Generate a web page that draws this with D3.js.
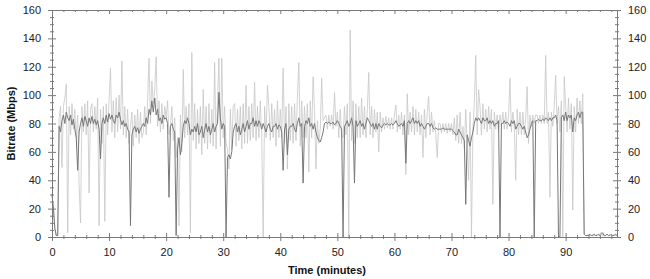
<!DOCTYPE html>
<html>
<head>
<meta charset="utf-8">
<script src="https://cdn.jsdelivr.net/npm/d3@7"></script>
<style>
  body { margin: 0; background: #fff; }
  svg text { font-family: "Liberation Sans", Arial, sans-serif; }
</style>
</head>
<body>
<div id="chart"></div>
<script>
// sampling grid: 4 samples per minute for both traces
const step = 0.25;
// light trace: per-sample bitrate (Mbps)
const rawRate = [
  30,20,6,1, 1,84,92,49, 92,98,108,3, 92,72,94,76, 90,70,86,37,
  10,92,74,94, 72,96,31,90, 94,74,92,76, 98,8,90,66, 92,11,94,72,
  96,119,74,96, 70,98,74,100, 76,124,72,92, 70,90,66,78, 88,64,86,70,
  90,66,88,70, 74,92,72,96, 126,80,110,94, 104,127,78,96, 74,94,76,92,
  84,96,72,78, 92,68,84,56, 70,8,86,60, 118,70,92,72, 94,3,130,68,
  94,62,90,66, 92,58,104,66, 92,62,94,66, 90,64,123,62, 96,126,64,126,
  70,92,66,62, 48,90,62,92, 94,64,90,68, 92,62,94,66, 107,66,92,68,
  94,70,109,68, 92,70,96,70, 0,92,70,107, 92,68,94,70, 90,64,96,70,
  90,70,119,66, 92,48,94,68, 92,66,94,68, 98,123,64,96, 70,92,70,94,
  46,96,70,113, 90,48,82,66, 76,112,82,84, 86,76,86,78, 86,76,102,78,
  88,70,90,72, 70,92,72,94, 0,146,68,96, 66,94,70,92, 70,98,72,92,
  70,90,116,72, 92,70,90,74, 88,60,88,74, 84,76,85,77, 84,76,84,76,
  86,93,74,86, 76,88,72,86, 44,101,72,88, 74,92,72,90, 74,88,72,86,
  56,90,70,88, 99,72,88,74, 82,72,56,80, 80,73,80,74, 80,73,80,74,
  80,72,84,68, 86,66,88,66, 78,62,90,64, 40,88,0,76, 94,128,72,104,
  92,72,94,76, 90,74,92,76, 90,23,88,76, 86,74,86,78, 88,76,88,76,
  86,112,74,88, 78,40,90,72, 88,72,88,72, 84,106,66,86, 78,86,80,86,
  86,80,86,80, 86,80,128,80, 88,28,88,78, 92,114,80,92, 74,96,0,113,
  92,74,98,76, 94,19,92,74, 98,80,96,80, 101,2,1,1, 2,1,1,2,
  1,1,2,1, 2,3.5,1,1, 1,2,1,2, 1,1,2,1, 1
];
// dark trace: smoothed bitrate (Mbps)
const avgRate = [
  30,20,6,1, 1,78,74,82, 86,80,88,84, 82,86,79,83, 76,70,47,74,
  80,84,78,85, 82,78,84,80, 85,80,83,79, 82,76,55,80, 84,80,86,81,
  87,83,86,82, 80,86,84,88, 83,79,82,78, 80,76,74,8, 72,76,78,74,
  77,73,76,78, 80,78,84,80, 90,86,96,88, 98,86,90,82, 84,80,86,83,
  84,80,28,78, 80,76,74,1, 62,70,58,66, 78,82,80,84, 80,72,76,74,
  78,74,80,72, 74,78,70,76, 80,74,78,72, 76,80,74,78, 80,102,84,76,
  80,78,0,56, 58,55,60,74, 78,80,74,78, 72,76,80,74, 78,82,76,80,
  80,84,78,82, 78,82,80,76, 80,77,74,78, 80,76,74,78, 78,80,76,79,
  78,74,47,76, 80,58,76,78, 78,80,76,74, 80,84,78,80, 38,78,82,80,
  84,78,80,76, 80,74,70,68, 67,70,74,80, 81,80,81,80, 80,81,79,80,
  82,80,78,76, 0,78,80,82, 78,80,84,78, 38,82,78,80, 82,78,80,76,
  80,84,82,80, 78,80,76,80, 76,80,78,77, 79,80,79,80, 79,79,80,79,
  80,82,80,78, 79,80,78,82, 52,80,82,80, 82,84,80,82, 80,82,78,80,
  78,76,78,80, 80,78,80,77, 76,77,76,76, 76,76,77,76, 76,76,76,76,
  76,75,74,72, 72,76,74,72, 70,68,23,72, 68,64,70,74, 80,84,82,84,
  82,80,84,82, 82,84,80,82, 80,82,78,80, 80,82,0,80, 80,82,80,81,
  80,78,82,80, 82,76,78,80, 80,78,76,78, 74,70,72,76, 80,82,0,82,
  82,83,82,82, 83,82,84,83, 82,84,82,84, 84,86,82,0, 0,84,86,82,
  88,82,86,84, 86,74,84,82, 86,88,84,88, 88,2,1,1, 1,2,1,1,
  2,1,1,2, 1,2,3,1, 1,2,1,1, 2,1,1,2, 1
];
const xTicks = [0, 10, 20, 30, 40, 50, 60, 70, 80, 90];
const yTicks = [0, 20, 40, 60, 80, 100, 120, 140, 160];

const width = 650, height = 279;
const margin = {top: 10, right: 33, bottom: 42, left: 52};

const svg = d3.select('#chart').append('svg')
  .attr('width', width).attr('height', height);

const x = d3.scaleLinear().domain([0, 99]).range([margin.left, width - margin.right]);
const y = d3.scaleLinear().domain([0, 160]).range([height - margin.bottom, margin.top]);

const xMinor = d3.range(0, 99.1, 2).filter(d => d % 10 !== 0);
const yMinor = d3.range(0, 161, 5).filter(d => d % 20 !== 0);

const line = d3.line().x(d => x(d[0])).y(d => y(d[1]));
const rawPts = rawRate.map((v, i) => [i * step, v]);
const avgPts = avgRate.map((v, i) => [i * step, v]);

svg.append('path').datum(rawPts)
  .attr('d', line).attr('fill', 'none')
  .attr('stroke', '#c6c6c6').attr('stroke-width', 0.8);
svg.append('path').datum(avgPts)
  .attr('d', line).attr('fill', 'none')
  .attr('stroke', '#777').attr('stroke-width', 1);

const axisColor = '#7a7a7a';
function styleAxis(g) {
  g.select('.domain').attr('stroke', axisColor);
  g.selectAll('.tick line').attr('stroke', axisColor);
  g.selectAll('.tick text').attr('fill', '#222').style('font-size', '11px');
}

// bottom
const gB = svg.append('g').attr('transform', `translate(0,${y(0)})`)
  .call(d3.axisBottom(x).tickValues(xTicks).tickSize(4).tickSizeOuter(0).tickPadding(7));
gB.selectAll('.tick line').attr('y1', -4);
svg.append('g').attr('transform', `translate(0,${y(0)})`)
  .call(d3.axisBottom(x).tickValues(xMinor).tickSize(2).tickFormat(''))
  .call(g => g.select('.domain').remove())
  .selectAll('.tick line').attr('y1', -2).attr('stroke', axisColor);
styleAxis(gB);

// top
const gT = svg.append('g').attr('transform', `translate(0,${y(160)})`)
  .call(d3.axisBottom(x).tickValues(xTicks).tickSize(4).tickSizeOuter(0).tickFormat(''));
svg.append('g').attr('transform', `translate(0,${y(160)})`)
  .call(d3.axisBottom(x).tickValues(xMinor).tickSize(2).tickFormat(''))
  .call(g => g.select('.domain').remove())
  .selectAll('.tick line').attr('stroke', axisColor);
styleAxis(gT);

// left
const gL = svg.append('g').attr('transform', `translate(${x(0)},0)`)
  .call(d3.axisLeft(y).tickValues(yTicks).tickSize(4).tickSizeOuter(0).tickPadding(7));
gL.selectAll('.tick line').attr('x1', 4);
svg.append('g').attr('transform', `translate(${x(0)},0)`)
  .call(d3.axisLeft(y).tickValues(yMinor).tickSize(2).tickFormat(''))
  .call(g => g.select('.domain').remove())
  .selectAll('.tick line').attr('x1', 2).attr('stroke', axisColor);
styleAxis(gL);

// right
const gR = svg.append('g').attr('transform', `translate(${x(99)},0)`)
  .call(d3.axisRight(y).tickValues(yTicks).tickSize(4).tickSizeOuter(0).tickPadding(7));
gR.selectAll('.tick line').attr('x1', -4);
svg.append('g').attr('transform', `translate(${x(99)},0)`)
  .call(d3.axisRight(y).tickValues(yMinor).tickSize(2).tickFormat(''))
  .call(g => g.select('.domain').remove())
  .selectAll('.tick line').attr('x1', -2).attr('stroke', axisColor);
styleAxis(gR);

svg.append('text')
  .attr('x', 327).attr('y', 274)
  .attr('text-anchor', 'middle')
  .style('font-size', '11px').style('font-weight', 'bold').attr('fill', '#111')
  .text('Time (minutes)');

svg.append('text')
  .attr('transform', `translate(15,${(y(0) + y(160)) / 2}) rotate(-90)`)
  .attr('text-anchor', 'middle')
  .style('font-size', '11px').style('font-weight', 'bold').attr('fill', '#111')
  .text('Bitrate (Mbps)');
</script>
</body>
</html>
